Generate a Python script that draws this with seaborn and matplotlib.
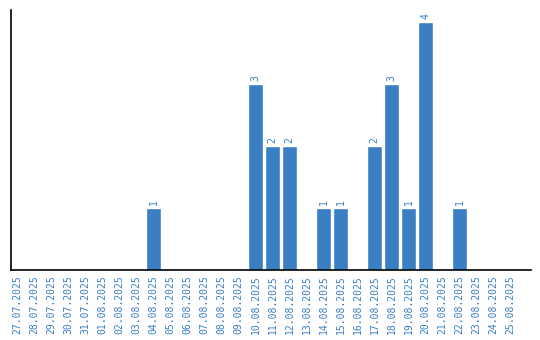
import matplotlib
matplotlib.use("Agg")
import matplotlib.pyplot as plt
import seaborn as sns
import pandas as pd

dates = ["27.07.2025", "28.07.2025", "29.07.2025", "30.07.2025", "31.07.2025",
         "01.08.2025", "02.08.2025", "03.08.2025", "04.08.2025", "05.08.2025",
         "06.08.2025", "07.08.2025", "08.08.2025", "09.08.2025", "10.08.2025",
         "11.08.2025", "12.08.2025", "13.08.2025", "14.08.2025", "15.08.2025",
         "16.08.2025", "17.08.2025", "18.08.2025", "19.08.2025", "20.08.2025",
         "21.08.2025", "22.08.2025", "23.08.2025", "24.08.2025", "25.08.2025"]
counts = [0, 0, 0, 0, 0, 0, 0, 0, 1, 0,
          0, 0, 0, 0, 3, 2, 2, 0, 1, 1,
          0, 2, 3, 1, 4, 0, 1, 0, 0, 0]

color = "#3a7ec3"
df = pd.DataFrame({"date": dates, "count": counts})

sns.set_style("white")
fig = plt.figure(figsize=(5.4, 3.4), dpi=100)
ax = fig.add_axes([11/540, 70/340, 520/540, 260/340])
sns.barplot(data=df, x="date", y="count", color=color, saturation=1, width=0.86, ax=ax)

for i, v in enumerate(counts):
    if v > 0:
        ax.text(i, v + 0.04, str(v), rotation=90, ha="center", va="bottom",
                fontsize=7, color=color, family="DejaVu Sans Mono")

ax.set_xlim(-0.38, 30.2)
ax.set_ylim(0, 4.19)
ax.set_xlabel("")
ax.set_ylabel("")
ax.set_yticks([])
ax.tick_params(axis="x", length=0, pad=4)
for lbl in ax.get_xticklabels():
    lbl.set_rotation(90)
    lbl.set_fontsize(7)
    lbl.set_color(color)
    lbl.set_family("DejaVu Sans Mono")
for s in ["top", "right"]:
    ax.spines[s].set_visible(False)
for s in ["left", "bottom"]:
    ax.spines[s].set_color("black")
    ax.spines[s].set_linewidth(1.2)

fig.savefig("out.png", dpi=100)
